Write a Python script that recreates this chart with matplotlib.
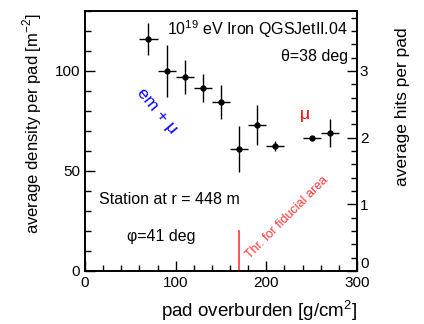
import numpy as np
import matplotlib
matplotlib.use("Agg")
import matplotlib.pyplot as plt
from matplotlib.ticker import MultipleLocator, FuncFormatter

plt.rcParams['font.family'] = ['Liberation Sans', 'DejaVu Sans']
plt.rcParams['mathtext.fontset'] = 'custom'
plt.rcParams['mathtext.rm'] = 'Liberation Sans'

# data
overburden = [70, 90, 110, 130, 150, 170, 190, 210, 250, 270]
overburden_err = [10, 10, 10, 10, 10, 10, 10, 10, 10, 10]
density = [116, 100, 97, 91.5, 84.5, 61, 73, 62.5, 66.5, 69]
density_err = [8, 13, 8.5, 7, 8.5, 11.5, 10, 2.7, 1, 7]
fiducial_thr = 170
hits_per_density = 0.03

fig = plt.figure(figsize=(4.24, 3.24), dpi=100)
ax = fig.add_axes([85/424, 1-271/324, 272/424, 260/324])

ax.errorbar(overburden, density, xerr=overburden_err, yerr=density_err,
            fmt='o', ms=3.5, color='k', ecolor='k', elinewidth=1.0, capsize=0)
ax.plot([fiducial_thr, fiducial_thr], [0, 20], color='#ff3333', lw=1.2)

ax.set_xlim(0, 300)
ax.set_ylim(0, 130)
ax.xaxis.set_major_locator(MultipleLocator(100))
ax.xaxis.set_minor_locator(MultipleLocator(20))
ax.yaxis.set_major_locator(MultipleLocator(50))
ax.yaxis.set_minor_locator(MultipleLocator(10))
ax.tick_params(which='both', direction='in', top=False, right=False, labelsize=11)
ax.tick_params(which='major', length=7, width=1)
ax.tick_params(which='minor', length=4, width=1)
for s in ax.spines.values():
    s.set_linewidth(1.2)

ax.set_xlabel("pad overburden [g/cm$^{2}$]", fontsize=13.5, ha='center', va='center')
ax.xaxis.set_label_coords(0.64, -0.152)
ax.set_ylabel("average density per pad [m$^{-2}$]", fontsize=12, ha='center', va='center')
ax.yaxis.set_label_coords(-0.195, 0.568)

ax2 = ax.twinx()
ax2.set_ylim(0, 130*hits_per_density)
ax2.yaxis.set_major_locator(MultipleLocator(1))
ax2.yaxis.set_minor_locator(MultipleLocator(0.2))
# the "0" of the right axis sits a little higher, drawn separately below
ax2.yaxis.set_major_formatter(FuncFormatter(lambda v, p: "" if v == 0 else "%d" % v))
ax2.tick_params(which='both', direction='in', labelsize=11, pad=2)
ax2.tick_params(which='major', length=7, width=1)
ax2.tick_params(which='minor', length=4, width=1)
ax2.set_ylabel("average hits per pad", fontsize=12.5, ha='center', va='center')
ax2.yaxis.set_label_coords(1.169, 0.633)
for s in ax2.spines.values():
    s.set_linewidth(1.2)
ax2.text(1.012, 0.0, "0", transform=ax2.transAxes, ha='left', va='bottom', fontsize=11)

ax.text(290, 121, "10$^{19}$ eV Iron QGSJetII.04", ha='right', va='center', fontsize=11.5)
ax.text(290, 107, "θ=38 deg", ha='right', va='center', fontsize=11.5)
ax.text(80, 80, "em + μ", ha='center', va='center', fontsize=12.5, color='#0000ff', rotation=-50)
ax.text(243, 78, "μ", ha='center', va='center', fontsize=12.5, color='#ff0000')
ax.text(15, 35.5, "Station at r = 448 m", ha='left', va='center', fontsize=11.5)
ax.text(46, 17, "φ=41 deg", ha='left', va='center', fontsize=11.5)
ax.text(182, 6, "Thr. for fiducial area", ha='left', va='baseline', fontsize=9,
        color='#ff3333', rotation=45, rotation_mode='anchor')

fig.savefig("out.png", dpi=100)
